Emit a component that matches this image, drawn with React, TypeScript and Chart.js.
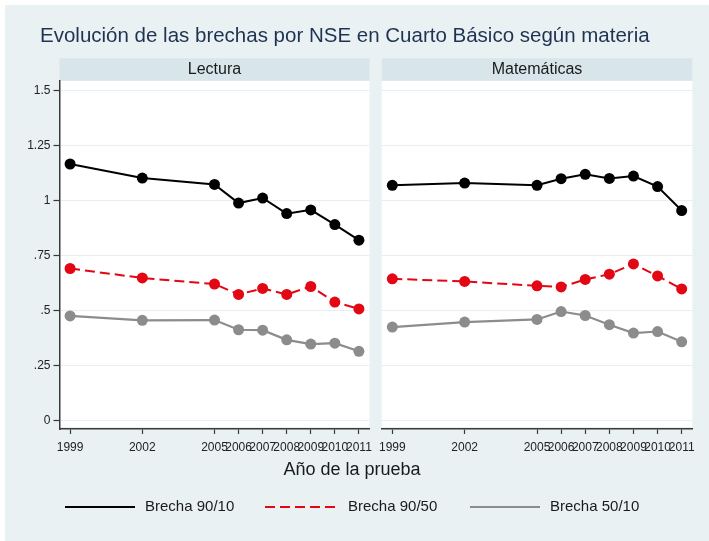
import React, { useEffect, useRef } from "react";
import { Chart, registerables } from "chart.js";
Chart.register(...registerables);

const years = [1999, 2002, 2005, 2006, 2007, 2008, 2009, 2010, 2011];
const yTicks = [0, 0.25, 0.5, 0.75, 1, 1.25, 1.5];
const yTickLabels = ["0", ".25", ".5", ".75", "1", "1.25", "1.5"];
const lectura9010 = [1.167, 1.103, 1.074, 0.989, 1.012, 0.941, 0.958, 0.891, 0.82];
const lectura9050 = [0.691, 0.648, 0.62, 0.573, 0.6, 0.573, 0.609, 0.538, 0.507];
const lectura5010 = [0.475, 0.455, 0.456, 0.412, 0.41, 0.366, 0.347, 0.351, 0.314];
const mate9010 = [1.07, 1.08, 1.07, 1.1, 1.12, 1.101, 1.112, 1.064, 0.955];
const mate9050 = [0.644, 0.632, 0.612, 0.607, 0.641, 0.665, 0.712, 0.657, 0.598];
const mate5010 = [0.424, 0.447, 0.459, 0.495, 0.477, 0.435, 0.397, 0.404, 0.357];
const panelTitles = ["Lectura", "Matemáticas"];
const seriesNames = ["Brecha 90/10", "Brecha 90/50", "Brecha 50/10"];
const chartTitle = "Evolución de las brechas por NSE en Cuarto Básico según materia";
const xAxisTitle = "Año de la prueba";

const W = 709;
const H = 541;
const FONT = "'Liberation Sans', Arial, sans-serif";
const BG = "#eaf1f3";
const STRIP = "#d8e5eb";
const AXIS = "#3a3a3a";

const seriesStyles = [
  { color: "#000000", width: 2, dash: [] as number[] },
  { color: "#e30613", width: 2, dash: [10, 5] },
  { color: "#8c8c8c", width: 2.2, dash: [] as number[] },
];

function makeDatasets(values: number[][]) {
  return values.map((vals, i) => ({
    label: seriesNames[i],
    data: years.map((y, j) => ({ x: y, y: vals[j] })),
    borderColor: seriesStyles[i].color,
    backgroundColor: seriesStyles[i].color,
    borderWidth: seriesStyles[i].width,
    borderDash: seriesStyles[i].dash,
    pointRadius: 5.5,
    pointBorderWidth: 0,
    pointBackgroundColor: seriesStyles[i].color,
    tension: 0,
    order: 3 - i,
  }));
}

const panelPlugin = {
  id: "panelDeco",
  beforeDraw(chart: any, _args: any, opts: any) {
    const { ctx, chartArea } = chart;
    ctx.save();
    ctx.fillStyle = "#ffffff";
    ctx.fillRect(chartArea.left, chartArea.top, chartArea.right - chartArea.left, chartArea.bottom - chartArea.top - 2);
    ctx.fillStyle = STRIP;
    ctx.fillRect(chartArea.left, 58.3, chartArea.right - chartArea.left, 22.4);
    ctx.fillStyle = "#1a1a1a";
    ctx.font = `16px ${FONT}`;
    ctx.textAlign = "center";
    ctx.textBaseline = "middle";
    ctx.fillText(opts.title, (chartArea.left + chartArea.right) / 2, 70);
    ctx.restore();
  },
  afterDraw(chart: any, _args: any, opts: any) {
    if (!opts.main) return;
    const { ctx } = chart;
    ctx.save();
    ctx.fillStyle = "#1e3252";
    ctx.font = `20.5px ${FONT}`;
    ctx.textAlign = "left";
    ctx.textBaseline = "middle";
    ctx.fillText(chartTitle, 40, 36);
    ctx.fillStyle = "#1a1a1a";
    ctx.font = `18px ${FONT}`;
    ctx.textAlign = "center";
    ctx.textBaseline = "alphabetic";
    ctx.fillText(xAxisTitle, 352, 475);
    const lx = [65, 265, 470];
    ctx.font = `15px ${FONT}`;
    ctx.textAlign = "left";
    ctx.textBaseline = "middle";
    seriesNames.forEach((n, i) => {
      const s = seriesStyles[i];
      ctx.strokeStyle = s.color;
      ctx.lineWidth = s.width;
      ctx.setLineDash(s.dash);
      ctx.beginPath();
      ctx.moveTo(lx[i], 507);
      ctx.lineTo(lx[i] + 70, 507);
      ctx.stroke();
      ctx.setLineDash([]);
      ctx.fillStyle = "#1a1a1a";
      ctx.fillText(n, lx[i] + 80 + (i === 1 ? 3 : 0), 507);
    });
    ctx.restore();
  },
};

function makeConfig(values: number[][], title: string, left: boolean): any {
  return {
    type: "line",
    data: { datasets: makeDatasets(values) },
    plugins: [panelPlugin],
    options: {
      animation: false,
      responsive: false,
      events: [],
      layout: {
        padding: left
          ? { left: 0, top: 81, right: W - 369.5, bottom: 82 }
          : { left: 381.7, top: 81, right: W - 692.3, bottom: 82 },
      },
      plugins: {
        legend: { display: false },
        tooltip: { enabled: false },
        title: { display: false },
        panelDeco: { title, main: left },
      },
      scales: {
        x: {
          type: "linear",
          min: 1998.56,
          max: 2011.44,
          afterBuildTicks: (s: any) => {
            s.ticks = years.map((v) => ({ value: v }));
          },
          afterFit: (s: any) => {
            s.height = 30;
          },
          ticks: {
            autoSkip: false,
            maxRotation: 0,
            minRotation: 0,
            padding: 6,
            color: "#222",
            font: { family: FONT, size: 12 },
            callback: (v: number) => String(v),
          },
          grid: { drawOnChartArea: false, tickColor: AXIS, tickLength: 5, tickWidth: 1.2 },
          border: { display: true, color: AXIS, width: 1.5 },
        },
        y: {
          type: "linear",
          min: -0.04,
          max: 1.545,
          afterBuildTicks: (s: any) => {
            s.ticks = yTicks.map((v) => ({ value: v }));
          },
          afterFit: (s: any) => {
            s.width = left ? 59.5 : 0;
          },
          ticks: {
            display: left,
            padding: 3,
            color: "#222",
            font: { family: FONT, size: 12 },
            callback: (v: number) => {
              const k = yTicks.indexOf(v);
              return k >= 0 ? yTickLabels[k] : "";
            },
          },
          grid: {
            color: "#e6eef1",
            lineWidth: 1,
            drawTicks: left,
            tickColor: AXIS,
            tickLength: 6,
            tickWidth: 1.2,
          },
          border: { display: left, color: AXIS, width: 1.5 },
        },
      },
    },
  };
}

export default function App() {
  const leftRef = useRef<HTMLCanvasElement | null>(null);
  const rightRef = useRef<HTMLCanvasElement | null>(null);

  useEffect(() => {
    document.body.style.margin = "0";
    const c1 = new Chart(leftRef.current as HTMLCanvasElement, makeConfig([lectura9010, lectura9050, lectura5010], panelTitles[0], true));
    const c2 = new Chart(rightRef.current as HTMLCanvasElement, makeConfig([mate9010, mate9050, mate5010], panelTitles[1], false));
    return () => {
      c1.destroy();
      c2.destroy();
    };
  }, []);

  return (
    <div style={{ position: "relative", width: W, height: H, background: "#ffffff", overflow: "hidden" }}>
      <div style={{ position: "absolute", left: 5, top: 5, width: W - 5, height: H - 5, background: BG }} />
      <canvas ref={leftRef} width={W} height={H} style={{ position: "absolute", left: 0, top: 0, width: W, height: H }} />
      <canvas ref={rightRef} width={W} height={H} style={{ position: "absolute", left: 0, top: 0, width: W, height: H }} />
    </div>
  );
}
